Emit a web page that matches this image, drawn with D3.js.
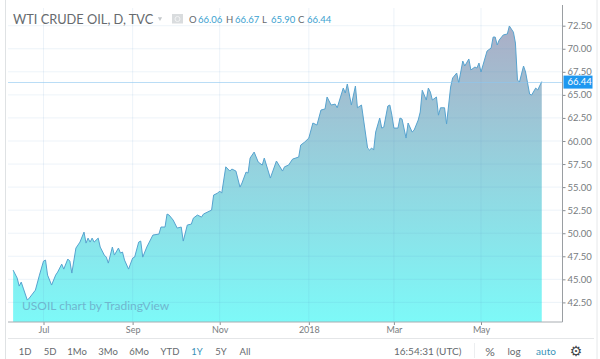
<!DOCTYPE html>
<html lang="en">
	<head>
		<meta charset="UTF-8">
		<title>WTI Crude Oil</title>
		<style type="text/css">
			* {
				margin: 0;
				padding: 0;
			}

			body {
				background: #fff;
				overflow: hidden;
			}

			text {
				font-family: Lato, "Open Sans", sans-serif;
			}
		</style>
	</head>
	<body>
		<div id="chart"></div>
		<script src="https://cdn.jsdelivr.net/npm/d3@7"></script>
		<script type="text/javascript">
			// trading days counted from the first bar of July 2017
			var days = [-15, -13, -12, -11, -10, -8, -7, -4, -2, 0, 1, 2, 4, 6, 7, 9, 10, 12, 13, 14, 16, 18, 20, 21, 22, 23, 24, 25, 27, 28,
				30, 31, 32, 34, 35, 37, 38, 39, 40, 42, 44, 45, 47, 48, 49, 51, 54, 57, 58, 60, 61, 62, 64, 66, 68, 69, 71, 73, 74, 76,
				78, 79, 83, 84, 86, 87, 88, 90, 92, 93, 95, 97, 98, 100, 101, 102, 104, 106, 108, 109, 112, 115, 118, 119, 121, 123, 126, 127, 129, 131,
				133, 135, 137, 139, 140, 142, 144, 145, 148, 149, 150, 152, 154, 155, 157, 160, 161, 162, 163, 164, 166, 167, 168, 170, 171, 172, 173, 175, 176, 177,
				179, 180, 182, 183, 185, 186, 187, 189, 190, 191, 192, 194, 195, 196, 198, 199, 201, 202, 204, 205, 207, 208, 210, 211, 213, 214, 215, 216, 219, 221,
				222, 223, 224, 225, 227, 229, 230, 232, 233, 234, 235, 237, 238, 240, 241, 243, 244, 246];
			var closes = [46.0, 45.14, 44.27, 44.7, 44.05, 42.75, 42.97, 43.83, 45.46, 46.98, 47.09, 45.46, 44.38, 45.46, 45.79, 46.65, 46.11, 47.2, 46.98, 45.68, 48.39, 49.04, 50.12, 48.93, 49.47, 49.04, 49.47, 49.04, 49.47, 48.5,
				47.63, 47.41, 46.76, 48.5, 47.63, 48.39, 47.85, 47.96, 47.09, 46.11, 47.3, 47.41, 49.04, 49.15, 47.41, 48.5, 49.8, 49.91, 50.67, 50.67, 52.08, 51.97, 51.43, 50.56, 50.67, 49.15, 50.89, 50.99, 51.64, 51.97,
				51.75, 52.08, 52.51, 54.14, 54.35, 54.57, 54.35, 57.2, 56.74, 56.96, 56.74, 55.0, 55.44, 56.63, 56.52, 58.15, 58.8, 57.72, 57.39, 58.15, 55.98, 57.83, 56.74, 57.2, 57.39, 58.04, 58.26, 59.56, 59.89, 60.32,
				61.95, 61.73, 63.36, 63.47, 64.77, 63.9, 64.0, 63.6, 65.74, 65.2, 66.18, 63.9, 65.96, 63.6, 63.9, 59.24, 59.02, 59.24, 59.02, 60.97, 62.49, 61.4, 61.5, 63.79, 63.9, 62.8, 61.4, 61.4, 62.49, 62.38,
				60.32, 61.95, 60.97, 61.19, 62.27, 63.14, 65.5, 64.44, 65.74, 65.3, 64.44, 64.77, 62.8, 63.6, 63.6, 61.84, 65.85, 66.83, 67.37, 66.29, 68.67, 68.13, 68.89, 67.7, 68.02, 67.91, 68.45, 67.48, 69.76, 70.08,
				71.27, 71.27, 70.41, 70.95, 71.5, 71.6, 72.47, 71.8, 70.62, 66.61, 66.39, 68.13, 67.48, 65.09, 64.98, 65.74, 65.53, 66.44];

			var monthDays = [0, 44, 87, 131, 173, 216];
			var monthLabels = ["Jul", "Sep", "Nov", "2018", "Mar", "May"];
			var priceTicks = [42.5, 45, 47.5, 50, 52.5, 55, 57.5, 60, 62.5, 65, 67.5, 70, 72.5];
			var lastPrice = 66.44;

			var ohlcNames = ["O", "H", "L", "C"];
			var ohlcValues = ["66.06", "66.67", "65.90", "66.44"];
			var ranges = ["1D", "5D", "1Mo", "3Mo", "6Mo", "YTD", "1Y", "5Y", "All"];

			var svgWidth = 600;
			var svgHeight = 359;
			var axisX = 562.5;
			var axisY = 322;

			var svg = d3.select("#chart")
				.append("svg")
				.attr("width", svgWidth)
				.attr("height", svgHeight);

			var xScale = d3.scaleLinear().domain([0, 216]).range([43.5, 481]);
			var yScale = d3.scaleLinear().domain([42.5, 72.5]).range([302.4, 25.7]);

			// gradient for the area
			var grad = svg.append("defs").append("linearGradient")
				.attr("id", "areaFill")
				.attr("gradientUnits", "userSpaceOnUse")
				.attr("x1", 0).attr("x2", 0)
				.attr("y1", 25).attr("y2", axisY);
			grad.append("stop").attr("offset", "0%").attr("stop-color", "#abaec6");
			grad.append("stop").attr("offset", "100%").attr("stop-color", "#7df9f8");

			// frame
			svg.append("line").attr("x1", 5.5).attr("x2", 5.5).attr("y1", 0).attr("y2", 359)
				.attr("stroke", "#dfe2e4");
			svg.append("line").attr("x1", 597).attr("x2", 597).attr("y1", 0).attr("y2", 359)
				.attr("stroke", "#e6e8ea");
			svg.append("line").attr("x1", 8).attr("x2", 594).attr("y1", 338.5).attr("y2", 338.5)
				.attr("stroke", "#e4e6e8");

			// area and line
			var area = d3.area()
				.x(function(d, i) { return xScale(days[i]); })
				.y0(axisY)
				.y1(function(d) { return yScale(d); });
			var line = d3.line()
				.x(function(d, i) { return xScale(days[i]); })
				.y(function(d) { return yScale(d); });

			svg.append("path").datum(closes)
				.attr("d", area)
				.attr("fill", "url(#areaFill)");
			svg.append("path").datum(closes)
				.attr("d", line)
				.attr("fill", "none")
				.attr("stroke", "#57a3cf")
				.attr("stroke-width", 1);

			// grid sits over the fill, it shows through faintly
			svg.append("g").selectAll("line")
				.data(monthDays)
				.enter().append("line")
				.attr("x1", function(d) { return xScale(d); })
				.attr("x2", function(d) { return xScale(d); })
				.attr("y1", 8).attr("y2", axisY)
				.attr("stroke", "#5a96c8").attr("stroke-opacity", 0.11);
			svg.append("g").selectAll("line")
				.data(priceTicks)
				.enter().append("line")
				.attr("x1", 8).attr("x2", axisX)
				.attr("y1", function(d) { return yScale(d); })
				.attr("y2", function(d) { return yScale(d); })
				.attr("stroke", "#5a96c8").attr("stroke-opacity", 0.11);
			svg.append("line")
				.attr("x1", 8).attr("x2", axisX)
				.attr("y1", Math.round(yScale(lastPrice)) + 0.5).attr("y2", Math.round(yScale(lastPrice)) + 0.5)
				.attr("stroke", "#8cc6f0").attr("stroke-opacity", 0.6);

			// axes
			var yAxisG = svg.append("g")
				.attr("transform", "translate(" + axisX + ",0)")
				.call(d3.axisRight(yScale).tickValues(priceTicks).tickFormat(d3.format(".2f")).tickSize(3).tickSizeOuter(0));
			yAxisG.select("path").remove();
			yAxisG.selectAll("line").attr("stroke", "#8a8f94");
			yAxisG.selectAll("text")
				.attr("font-size", "9.5px")
				.attr("fill", "#777c80")
				.attr("x", 5);
			svg.append("line").attr("x1", axisX).attr("x2", axisX).attr("y1", 5).attr("y2", axisY)
				.attr("stroke", "#9a9ea2");

			var xAxisG = svg.append("g")
				.attr("transform", "translate(0," + axisY + ")")
				.call(d3.axisBottom(xScale).tickValues(monthDays).tickFormat(function(d, i) { return monthLabels[i]; }).tickSize(3).tickSizeOuter(0));
			xAxisG.select("path").remove();
			xAxisG.selectAll("line").attr("stroke", "#8a8f94");
			xAxisG.selectAll("text")
				.attr("font-size", "9px")
				.attr("fill", "#777c80")
				.attr("y", 5);
			svg.append("line").attr("x1", 8).attr("x2", axisX).attr("y1", axisY).attr("y2", axisY)
				.attr("stroke", "#a8adb2");

			// last price label
			svg.append("rect")
				.attr("x", axisX + 1)
				.attr("y", yScale(lastPrice) - 6)
				.attr("width", 29).attr("height", 13)
				.attr("fill", "#1e98f0");
			svg.append("text")
				.attr("x", axisX + 5)
				.attr("y", yScale(lastPrice) + 3.5)
				.attr("font-size", "9.5px")
				.attr("fill", "#fff")
				.text(d3.format(".2f")(lastPrice));

			// header
			svg.append("text")
				.attr("x", 13).attr("y", 24)
				.attr("font-size", "12.8px")
				.attr("fill", "#666a6e")
				.text("WTI CRUDE OIL, D, TVC");
			svg.append("path")
				.attr("d", d3.symbol().type(d3.symbolTriangle).size(8)())
				.attr("transform", "translate(160,18.5) rotate(180)")
				.attr("fill", "#c4c8cb");
			svg.append("rect").attr("x", 172).attr("y", 14).attr("width", 11).attr("height", 9.5)
				.attr("fill", "#d9dcde");
			svg.append("circle").attr("cx", 177.5).attr("cy", 19).attr("r", 2.5)
				.attr("fill", "none").attr("stroke", "#f3f4f5");

			var ohlcX = [189, 226, 262, 298];
			ohlcNames.forEach(function(name, i) {
				svg.append("text")
					.attr("x", ohlcX[i]).attr("y", 22.5)
					.attr("font-size", "9.5px")
					.attr("fill", "#666a6e")
					.text(name);
				svg.append("text")
					.attr("x", ohlcX[i] + 9).attr("y", 22.5)
					.attr("font-size", "9.5px")
					.attr("fill", "#3a9fd0")
					.text(ohlcValues[i]);
			});

			// watermark
			svg.append("text")
				.attr("x", 22).attr("y", 310)
				.attr("font-size", "12px")
				.attr("fill", "#6fb6cf")
				.text("USOIL chart by TradingView");

			// bottom toolbar
			var rangeX = [25, 50, 77, 108, 139, 170, 197, 221, 245];
			svg.append("g").selectAll("text")
				.data(ranges)
				.enter().append("text")
				.attr("x", function(d, i) { return rangeX[i]; })
				.attr("y", 355)
				.attr("text-anchor", "middle")
				.attr("font-size", "9.5px")
				.attr("fill", function(d) { return d === "1Y" ? "#3a93b8" : "#666a6e"; })
				.text(function(d) { return d; });

			svg.append("text").attr("x", 394).attr("y", 355)
				.attr("font-size", "10px").attr("fill", "#666a6e")
				.text("16:54:31 (UTC)");
			svg.append("line").attr("x1", 474.5).attr("x2", 474.5).attr("y1", 343).attr("y2", 358)
				.attr("stroke", "#eceef0");
			svg.append("text").attr("x", 490).attr("y", 356).attr("text-anchor", "middle")
				.attr("font-size", "12px").attr("fill", "#666a6e").text("%");
			svg.append("text").attr("x", 514).attr("y", 355).attr("text-anchor", "middle")
				.attr("font-size", "10px").attr("fill", "#666a6e").text("log");
			svg.append("text").attr("x", 546).attr("y", 355).attr("text-anchor", "middle")
				.attr("font-size", "10px").attr("fill", "#3a93b8").text("auto");
			svg.append("text").attr("x", 576).attr("y", 356).attr("text-anchor", "middle")
				.attr("font-size", "14px").attr("fill", "#44484c")
				.style("font-family", "'DejaVu Sans'")
				.text("\u2699");
		</script>
	</body>
</html>
